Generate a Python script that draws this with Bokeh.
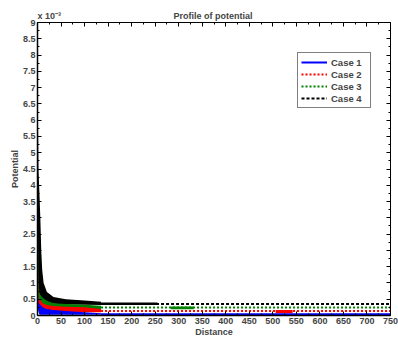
from bokeh.plotting import figure
from bokeh.models import LinearAxis, Legend, LegendItem, Range1d, FixedTicker, Title
from bokeh.embed import file_html
from bokeh.resources import INLINE

FONT = "Liberation Sans"

# Potential values are given in units of 1e-3
x_ticks = [0, 50, 100, 150, 200, 250, 300, 350, 400, 450, 500, 550, 600, 650, 700, 750]
y_ticks = [0, 0.5, 1, 1.5, 2, 2.5, 3, 3.5, 4, 4.5, 5, 5.5, 6, 6.5, 7, 7.5, 8, 8.5, 9]

# Near-field region: noisy decay, described by lower / upper envelopes
band_x = [0.5, 1, 2, 4, 6, 8, 10, 13, 20, 34, 60, 100, 135]
case4_hi = [9.0, 6.0, 4.5, 3.8, 3.0, 2.0, 1.4, 1.0, 0.72, 0.57, 0.5, 0.46, 0.42]
case4_lo = [0.6, 0.55, 0.5, 0.5, 0.48, 0.46, 0.44, 0.42, 0.4, 0.36, 0.34, 0.33, 0.32]
case3_hi = [8.0, 3.0, 1.0, 0.7, 0.63, 0.6, 0.56, 0.52, 0.45, 0.38, 0.35, 0.33, 0.3]
case3_lo = [0.5, 0.45, 0.4, 0.3, 0.28, 0.27, 0.26, 0.25, 0.23, 0.21, 0.2, 0.19, 0.19]
case2_hi = [7.0, 1.5, 0.6, 0.5, 0.48, 0.44, 0.4, 0.36, 0.32, 0.29, 0.27, 0.25, 0.2]
case2_lo = [0.4, 0.35, 0.3, 0.15, 0.12, 0.12, 0.12, 0.12, 0.12, 0.11, 0.11, 0.1, 0.1]
case1_hi = [5.0, 0.8, 0.4, 0.35, 0.33, 0.3, 0.27, 0.24, 0.2, 0.17, 0.14, 0.1, 0.07]
case1_lo = [0.3, 0.2, 0.12, 0.03, 0.02, 0.02, 0.02, 0.02, 0.02, 0.02, 0.02, 0.02, 0.02]

# Far-field region: nearly constant levels
tail_x = [135, 750]
case1_tail = [0.035, 0.035]
case2_tail = [0.14, 0.14]
case3_tail = [0.245, 0.245]
case4_tail = [0.35, 0.35]

# Short noisy stretches inside the far field
burst4_x = [135, 205, 255]
burst4_lo = [0.32, 0.32, 0.32]
burst4_hi = [0.4, 0.4, 0.4]
burst3_x = [283, 332]
burst3_lo = [0.19, 0.19]
burst3_hi = [0.28, 0.28]
burst2_x = [506, 542]
burst2_lo = [0.07, 0.07]
burst2_hi = [0.17, 0.17]

labels = ["Case 1", "Case 2", "Case 3", "Case 4"]
colors = ["#0000ff", "#ff0000", "#008000", "#000000"]
dashes = ["solid", "2 2", "2 2", "3 2"]

p = figure(width=398, height=340, output_backend="svg", toolbar_location=None,
           x_range=Range1d(0, 750), y_range=Range1d(0, 9),
           min_border_left=37, min_border_right=8, min_border_top=22,
           min_border_bottom=25)
p.grid.visible = False
p.outline_line_color = "black"
p.outline_line_width = 1
p.background_fill_color = "white"
p.border_fill_color = "white"

# Bands, back to front
bands = [
    (band_x, case4_lo, case4_hi, colors[3]),
    (burst4_x, burst4_lo, burst4_hi, colors[3]),
    (band_x, case3_lo, case3_hi, colors[2]),
    (burst3_x, burst3_lo, burst3_hi, colors[2]),
    (band_x, case2_lo, case2_hi, colors[1]),
    (burst2_x, burst2_lo, burst2_hi, colors[1]),
    (band_x, case1_lo, case1_hi, colors[0]),
]
for bx, lo, hi, c in bands:
    p.varea(x=bx, y1=lo, y2=hi, fill_color=c)

tails = [case1_tail, case2_tail, case3_tail, case4_tail]
renderers = {}
for i in (3, 2, 1, 0):
    renderers[i] = p.line(x=tail_x, y=tails[i], line_color=colors[i],
                          line_width=2, line_dash=dashes[i])

legend = Legend(items=[LegendItem(label=labels[i], renderers=[renderers[i]]) for i in range(4)],
                location=(260, 207), glyph_width=26, glyph_height=12,
                label_height=12, label_width=36, spacing=0, padding=3, margin=0,
                label_standoff=4, border_line_color="black", border_line_width=1,
                label_text_font=FONT, label_text_font_size="9.5px",
                label_text_font_style="bold", background_fill_alpha=1)
p.add_layout(legend)

for ax in (p.xaxis[0], p.yaxis[0]):
    ax.major_label_text_font = FONT
    ax.major_label_text_font_size = "9px"
    ax.major_label_text_font_style = "bold"
    ax.axis_label_text_font = FONT
    ax.axis_label_text_font_size = "9px"
    ax.axis_label_text_font_style = "bold"
    ax.major_tick_in = 4
    ax.major_tick_out = 0
    ax.minor_tick_in = 2
    ax.minor_tick_out = 0
    ax.axis_line_width = 1.5
    ax.major_label_standoff = 2
    ax.axis_label_standoff = 0

p.xaxis[0].ticker = FixedTicker(ticks=x_ticks, minor_ticks=[t + 25 for t in x_ticks[:-1]])
p.yaxis[0].ticker = FixedTicker(ticks=y_ticks, minor_ticks=[t + 0.25 for t in y_ticks[:-1]])
p.xaxis[0].axis_label = "Distance"
p.yaxis[0].axis_label = "Potential"

# Mirrored box axes with blank labels
top = LinearAxis(ticker=FixedTicker(ticks=x_ticks, minor_ticks=[t + 25 for t in x_ticks[:-1]]),
                 major_label_overrides={t: "" for t in x_ticks},
                 major_tick_in=4, major_tick_out=0,
                 minor_tick_in=2, minor_tick_out=0, major_label_standoff=0)
right = LinearAxis(ticker=FixedTicker(ticks=y_ticks, minor_ticks=[t + 0.25 for t in y_ticks[:-1]]),
                   major_label_overrides={t: "" for t in y_ticks},
                   major_tick_in=4, major_tick_out=0,
                   minor_tick_in=2, minor_tick_out=0, major_label_standoff=0)
p.add_layout(top, "above")
p.add_layout(right, "right")

# One header row: y-axis exponent at the left, chart title further right
header = "x 10\u207b\u00b3" + "\u00a0" * 45 + "Profile of potential"
p.add_layout(Title(text=header, align="left", text_font=FONT,
                   text_font_size="9px", text_font_style="bold", standoff=3), "above")

open("out.html", "w").write(file_html(p, INLINE))
